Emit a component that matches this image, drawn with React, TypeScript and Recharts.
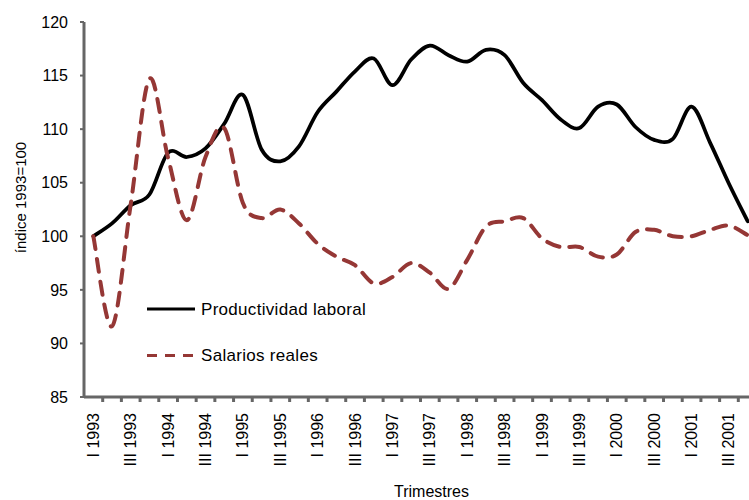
import React from "react";
import { LineChart, Line, XAxis, YAxis, Legend } from "recharts";

// Quarterly index, base 1993 = 100
const quarters = [
  "I 1993", "II 1993", "III 1993", "IV 1993",
  "I 1994", "II 1994", "III 1994", "IV 1994",
  "I 1995", "II 1995", "III 1995", "IV 1995",
  "I 1996", "II 1996", "III 1996", "IV 1996",
  "I 1997", "II 1997", "III 1997", "IV 1997",
  "I 1998", "II 1998", "III 1998", "IV 1998",
  "I 1999", "II 1999", "III 1999", "IV 1999",
  "I 2000", "II 2000", "III 2000", "IV 2000",
  "I 2001", "II 2001", "III 2001", "IV 2001",
];

const productividad = [
  100, 101.2, 102.9, 103.9, 107.8, 107.4, 108.2, 110.5,
  113.2, 108.1, 107.0, 108.4, 111.6, 113.5, 115.4, 116.6,
  114.1, 116.5, 117.8, 116.9, 116.3, 117.4, 116.9, 114.3,
  112.7, 110.9, 110.1, 112.1, 112.3, 110.2, 109.0, 109.1,
  112.1, 108.7, 104.9, 101.4,
];

const salarios = [
  100, 91.6, 103.0, 114.7, 107.3, 101.5, 107.4, 110.1,
  103.1, 101.7, 102.5, 101.2, 99.3, 98.1, 97.3, 95.6,
  96.2, 97.5, 96.6, 95.1, 97.8, 100.9, 101.4, 101.7,
  99.8, 99.0, 99.0, 98.1, 98.3, 100.4, 100.6, 100.0,
  100.0, 100.6, 101.0, 100.1,
];

const yTicks = [85, 90, 95, 100, 105, 110, 115, 120];

const data = quarters.map((q, i) => ({
  idx: i,
  quarter: q,
  productividad: productividad[i],
  salarios: salarios[i],
}));

// tick marks sit between quarters, labels on every other quarter
const boundaryTicks = quarters.slice(1).map((_, i) => i + 0.5);
const labelTicks = quarters.map((_, i) => i).filter((i) => i % 2 === 0);

const SERIES = [
  { key: "productividad", name: "Productividad laboral", color: "#000000", width: 3.75, dash: undefined as string | undefined, legendDash: undefined as string | undefined },
  { key: "salarios", name: "Salarios reales", color: "#953735", width: 4, dash: "13 10", legendDash: "10 8" },
];

const AXIS_COLOR = "#666666";
const FONT = "'Liberation Sans', Arial, sans-serif";

// Catmull-Rom style smoothing, close to the spreadsheet "smoothed line"
const smoothCurve = (context: any) => {
  let pts: [number, number][] = [];
  return {
    areaStart() {},
    areaEnd() {},
    lineStart() {
      pts = [];
    },
    lineEnd() {
      if (!pts.length) return;
      context.moveTo(pts[0][0], pts[0][1]);
      for (let i = 0; i < pts.length - 1; i++) {
        const p0 = pts[Math.max(i - 1, 0)];
        const p1 = pts[i];
        const p2 = pts[i + 1];
        const p3 = pts[Math.min(i + 2, pts.length - 1)];
        context.bezierCurveTo(
          p1[0] + (p2[0] - p0[0]) / 6,
          p1[1] + (p2[1] - p0[1]) / 6,
          p2[0] - (p3[0] - p1[0]) / 6,
          p2[1] - (p3[1] - p1[1]) / 6,
          p2[0],
          p2[1]
        );
      }
    },
    point(x: number, y: number) {
      pts.push([+x, +y]);
    },
  };
};

const QuarterTick = ({ x, y, payload }: any) => {
  const v = payload.value;
  if (!Number.isInteger(v)) {
    return <line x1={x} y1={y} x2={x} y2={y + 5} stroke={AXIS_COLOR} strokeWidth={3} />;
  }
  const ty = y + 16;
  return (
    <text
      x={x}
      y={ty}
      transform={`rotate(-90 ${x} ${ty})`}
      textAnchor="end"
      dominantBaseline="central"
      fontSize={16}
      fontFamily={FONT}
      fill="#000"
    >
      {quarters[v]}
    </text>
  );
};

const YTitle = ({ viewBox }: any) => {
  const cx = viewBox.x + 20;
  const cy = viewBox.y + viewBox.height / 2 - 12;
  return (
    <text
      x={cx}
      y={cy}
      transform={`rotate(-90 ${cx} ${cy})`}
      textAnchor="middle"
      dominantBaseline="central"
      fontSize={15}
      fontFamily={FONT}
      fill="#000"
    >
      índice 1993=100
    </text>
  );
};

const LegendBox = () => (
  <svg width={260} height={80}>
    {SERIES.map((s, i) => {
      const cy = 19 + i * 46.5;
      return (
        <g key={s.key}>
          <line x1={1} y1={cy} x2={49} y2={cy} stroke={s.color} strokeWidth={3} strokeDasharray={s.legendDash} />
          <text x={55} y={cy} dominantBaseline="central" fontSize={17} letterSpacing={0.3} fontFamily={FONT} fill="#000">
            {s.name}
          </text>
        </g>
      );
    })}
  </svg>
);

export default function App() {
  return (
    <div
      style={{
        position: "absolute",
        left: 0,
        top: 0,
        width: 749,
        height: 500,
        overflow: "hidden",
        background: "#fff",
        fontFamily: FONT,
      }}
    >
      <LineChart width={757} height={500} data={data} margin={{ top: 22, right: 0, bottom: 0, left: 0 }}>
        <XAxis
          type="number"
          dataKey="idx"
          domain={[-0.5, 35.5]}
          ticks={[...boundaryTicks, ...labelTicks]}
          interval={0}
          tick={<QuarterTick />}
          tickLine={false}
          tickSize={0}
          tickMargin={0}
          axisLine={{ stroke: AXIS_COLOR, strokeWidth: 3 }}
          height={103}
          label={{ value: "Trimestres", position: "insideBottom", offset: 3, dx: 11, fontSize: 16, fill: "#000", fontFamily: FONT }}
        />
        <YAxis
          domain={[85, 120]}
          ticks={yTicks}
          interval={0}
          width={84}
          tickSize={4}
          tickMargin={12}
          axisLine={{ stroke: AXIS_COLOR, strokeWidth: 3 }}
          tickLine={{ stroke: AXIS_COLOR, strokeWidth: 2 }}
          tick={{ fontSize: 16, fill: "#000", fontFamily: FONT }}
          label={<YTitle />}
        />
        <Legend
          layout="vertical"
          align="center"
          verticalAlign="middle"
          wrapperStyle={{ left: 146, top: 290, width: 260 }}
          content={<LegendBox />}
        />
        {SERIES.map((s) => (
          <Line
            key={s.key}
            dataKey={s.key}
            name={s.name}
            type={smoothCurve as any}
            stroke={s.color}
            strokeWidth={s.width}
            strokeDasharray={s.dash}
            strokeLinecap="round"
            strokeLinejoin="round"
            dot={false}
            activeDot={false}
            isAnimationActive={false}
          />
        ))}
      </LineChart>
    </div>
  );
}
